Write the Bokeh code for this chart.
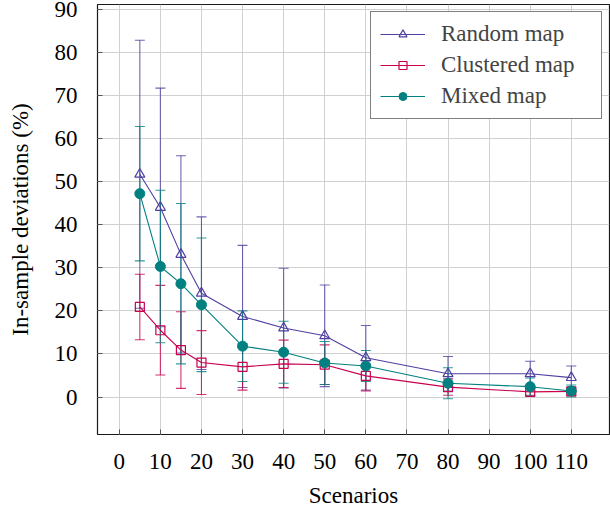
from bokeh.plotting import figure
from bokeh.models import (ColumnDataSource, Range1d, FixedTicker, Whisker, TeeHead,
                          Legend, LegendItem)
from bokeh.embed import file_html
from bokeh.resources import INLINE

# Number of scenarios used for each run
scenarios = [5, 10, 15, 20, 30, 40, 50, 60, 80, 100, 110]

# Mean in-sample deviation (%) and half-width of the error bar, per map type
random_mean = [51.7, 44.0, 33.1, 24.1, 18.7, 16.0, 14.2, 9.1, 5.4, 5.4, 4.5]
random_err = [31.1, 27.7, 22.9, 17.7, 16.5, 13.9, 11.8, 7.5, 4.0, 2.9, 2.7]

clustered_mean = [20.9, 15.5, 10.9, 8.0, 7.0, 7.7, 7.5, 4.9, 2.3, 1.2, 1.3]
clustered_err = [7.6, 10.4, 8.9, 7.4, 5.4, 5.5, 4.6, 3.5, 1.9, 1.0, 0.9]

mixed_mean = [47.2, 30.3, 26.3, 21.4, 11.8, 10.4, 7.9, 7.2, 3.2, 2.4, 1.4]
mixed_err = [15.6, 17.7, 18.6, 15.5, 8.2, 7.2, 5.0, 3.6, 3.6, 2.0, 1.4]

x_ticks = [0, 10, 20, 30, 40, 50, 60, 70, 80, 90, 100, 110]
y_ticks = [0, 10, 20, 30, 40, 50, 60, 70, 80, 90]

FONT = "Liberation Serif"

p = figure(width=610, height=512, output_backend="svg", toolbar_location=None,
           x_range=Range1d(-5.3, 119.3), y_range=Range1d(-8.7, 91.1),
           min_border_left=97, min_border_right=1, min_border_top=4,
           min_border_bottom=78)

p.outline_line_color = "#1a1a1a"
p.outline_line_width = 1.2
p.background_fill_color = "white"
p.border_fill_color = "white"

for ax in (p.xaxis[0], p.yaxis[0]):
    ax.axis_line_color = None
    ax.major_tick_in = 5
    ax.major_tick_out = 0
    ax.minor_tick_line_color = None
    ax.major_tick_line_color = "#555555"
    ax.major_label_text_font = FONT
    ax.major_label_text_font_size = "23px"
    ax.major_label_text_color = "black"
    ax.axis_label_text_font = FONT
    ax.axis_label_text_font_size = "23px"
    ax.axis_label_text_font_style = "normal"
    ax.axis_label_text_color = "black"

p.xaxis.ticker = FixedTicker(ticks=x_ticks)
p.yaxis.ticker = FixedTicker(ticks=y_ticks)
p.xaxis.axis_label = "Scenarios"
p.yaxis.axis_label = "In-sample deviations (%)"
p.xaxis.major_label_standoff = 19
p.xaxis.axis_label_standoff = 11
p.yaxis.major_label_standoff = 20
p.yaxis.axis_label_standoff = 19

p.grid.grid_line_color = "#d0d0d0"
p.grid.grid_line_width = 1

series = [
    ("Random map", random_mean, random_err, "#4f3fa0", "triangle"),
    ("Clustered map", clustered_mean, clustered_err, "#c8004e", "square"),
    ("Mixed map", mixed_mean, mixed_err, "#008080", "circle"),
]

items = []
for name, mean, err, color, marker in series:
    src = ColumnDataSource(dict(
        x=scenarios, y=mean,
        lo=[m - e for m, e in zip(mean, err)],
        hi=[m + e for m, e in zip(mean, err)],
    ))
    whisk = Whisker(source=src, base="x", upper="hi", lower="lo",
                    line_color=color, line_width=1.1, line_alpha=0.8,
                    upper_head=TeeHead(size=10, line_color=color, line_width=1.1, line_alpha=0.8),
                    lower_head=TeeHead(size=10, line_color=color, line_width=1.1, line_alpha=0.8))
    p.add_layout(whisk)
    ln = p.line("x", "y", source=src, line_color=color, line_width=1.1)
    if marker == "circle":
        mk = p.scatter("x", "y", source=src, marker="circle", size=10,
                       fill_color=color, line_color=color)
    elif marker == "triangle":
        mk = p.scatter("x", "y", source=src, marker="triangle", size=10,
                       fill_alpha=0, line_color=color, line_width=1.2)
    else:
        mk = p.scatter("x", "y", source=src, marker="square", size=9,
                       fill_alpha=0, line_color=color, line_width=1.2)
    items.append(LegendItem(label=name, renderers=[ln, mk]))

legend = Legend(items=items, location="top_right",
                label_text_font=FONT, label_text_font_size="23px",
                label_standoff=16, label_width=151,
                glyph_width=45, glyph_height=20, label_height=20,
                spacing=5, padding=9, margin=7,
                border_line_color="black", border_line_width=1,
                background_fill_color="white", background_fill_alpha=1)
p.add_layout(legend)

open("out.html", "w").write(file_html(p, INLINE))
